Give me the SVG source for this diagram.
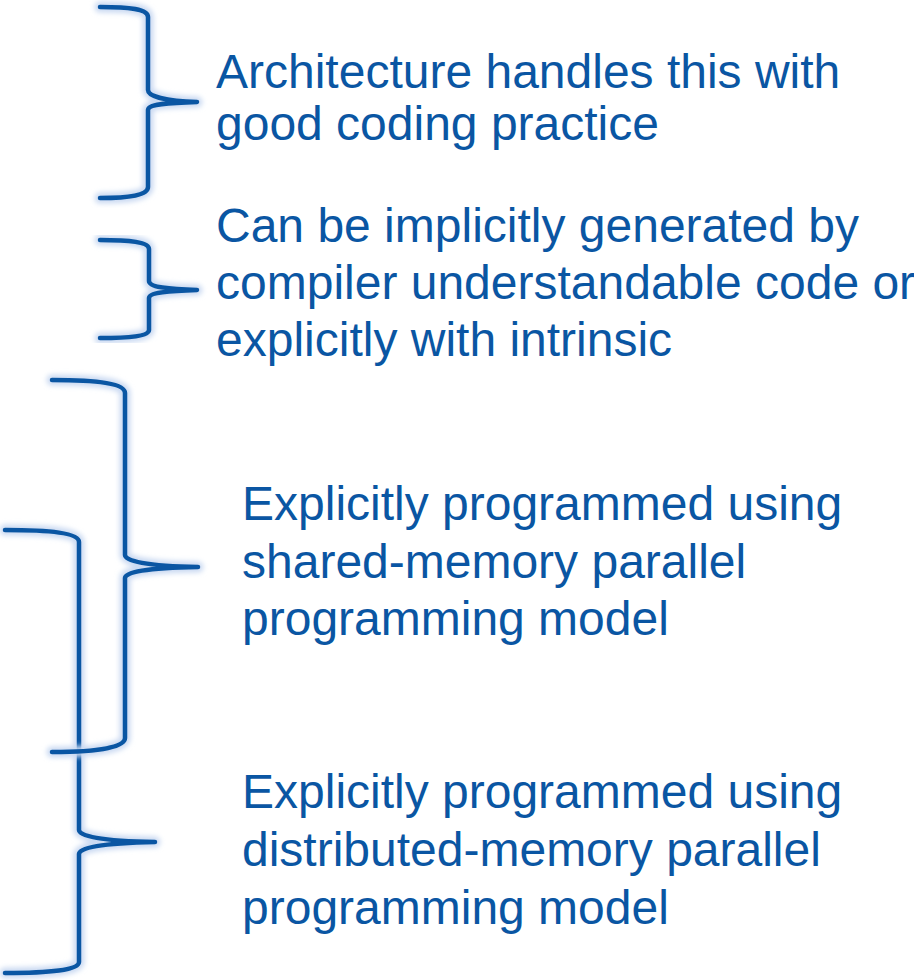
<svg xmlns="http://www.w3.org/2000/svg" width="914" height="980" viewBox="0 0 914 980">
  <defs>
    <filter id="soft" x="-20%" y="-5%" width="140%" height="110%">
      <feGaussianBlur stdDeviation="2.5"/>
    </filter>
    <style>
      .halo { fill: none; stroke: #cbdaf2; stroke-width: 11; stroke-linecap: round; stroke-linejoin: round; filter: url(#soft); }
      .brace { fill: none; stroke: #0a56a3; stroke-width: 4.5; stroke-linecap: round; stroke-linejoin: round; }
      .label { font-family: "Liberation Sans", Arial, sans-serif; font-size: 48px; fill: #0a56a3; }
    </style>
  </defs>
  <rect width="914" height="980" fill="#ffffff"/>

  <!-- distributed-memory brace (drawn first: the shared-memory brace crosses it) -->
  <g id="node-distributed">
    <path class="halo" d="M5,530 C50,530 79,533 79,542 L79,830 C79,836 100,841 155,842 C100,843 79,848 79,854 L79,962 C79,970 50,973 5,973"/>
    <path class="brace" d="M5,530 C50,530 79,533 79,542 L79,830 C79,836 100,841 155,842 C100,843 79,848 79,854 L79,962 C79,970 50,973 5,973"/>
    <text class="label" x="242" y="808">Explicitly programmed using</text>
    <text class="label" x="242" y="866">distributed-memory parallel</text>
    <text class="label" x="242" y="924">programming model</text>
  </g>

  <!-- shared-memory brace -->
  <g id="node-shared">
    <path class="halo" d="M52,380 C100,380 125,384 125,393 L125,555 C125,561 146,566 198,567 C146,568 125,572 125,578 L125,738 C125,747 100,752 52,752"/>
    <path class="brace" d="M52,380 C100,380 125,384 125,393 L125,555 C125,561 146,566 198,567 C146,568 125,572 125,578 L125,738 C125,747 100,752 52,752"/>
    <text class="label" x="242" y="520">Explicitly programmed using</text>
    <text class="label" x="242" y="578">shared-memory parallel</text>
    <text class="label" x="242" y="635">programming model</text>
  </g>

  <!-- architecture brace -->
  <g id="node-architecture">
    <path class="halo" d="M100,7 C130,7 148,9 148,17 L148,90 C148,96 165,101 197,102 C165,103 148,104 148,110 L148,187 C148,195 130,198 100,198"/>
    <path class="brace" d="M100,7 C130,7 148,9 148,17 L148,90 C148,96 165,101 197,102 C165,103 148,104 148,110 L148,187 C148,195 130,198 100,198"/>
    <text class="label" x="216" y="88">Architecture handles this with</text>
    <text class="label" x="216" y="140">good coding practice</text>
  </g>

  <!-- compiler / intrinsic brace -->
  <g id="node-compiler">
    <path class="halo" d="M100,240 C130,240 149,242 149,249 L149,281 C149,287 166,289 197,290 C166,291 149,293 149,298 L149,330 C149,336 130,338 100,338"/>
    <path class="brace" d="M100,240 C130,240 149,242 149,249 L149,281 C149,287 166,289 197,290 C166,291 149,293 149,298 L149,330 C149,336 130,338 100,338"/>
    <text class="label" x="216" y="242">Can be implicitly generated by</text>
    <text class="label" x="216" y="299">compiler understandable code or</text>
    <text class="label" x="216" y="356">explicitly with intrinsic</text>
  </g>
</svg>
